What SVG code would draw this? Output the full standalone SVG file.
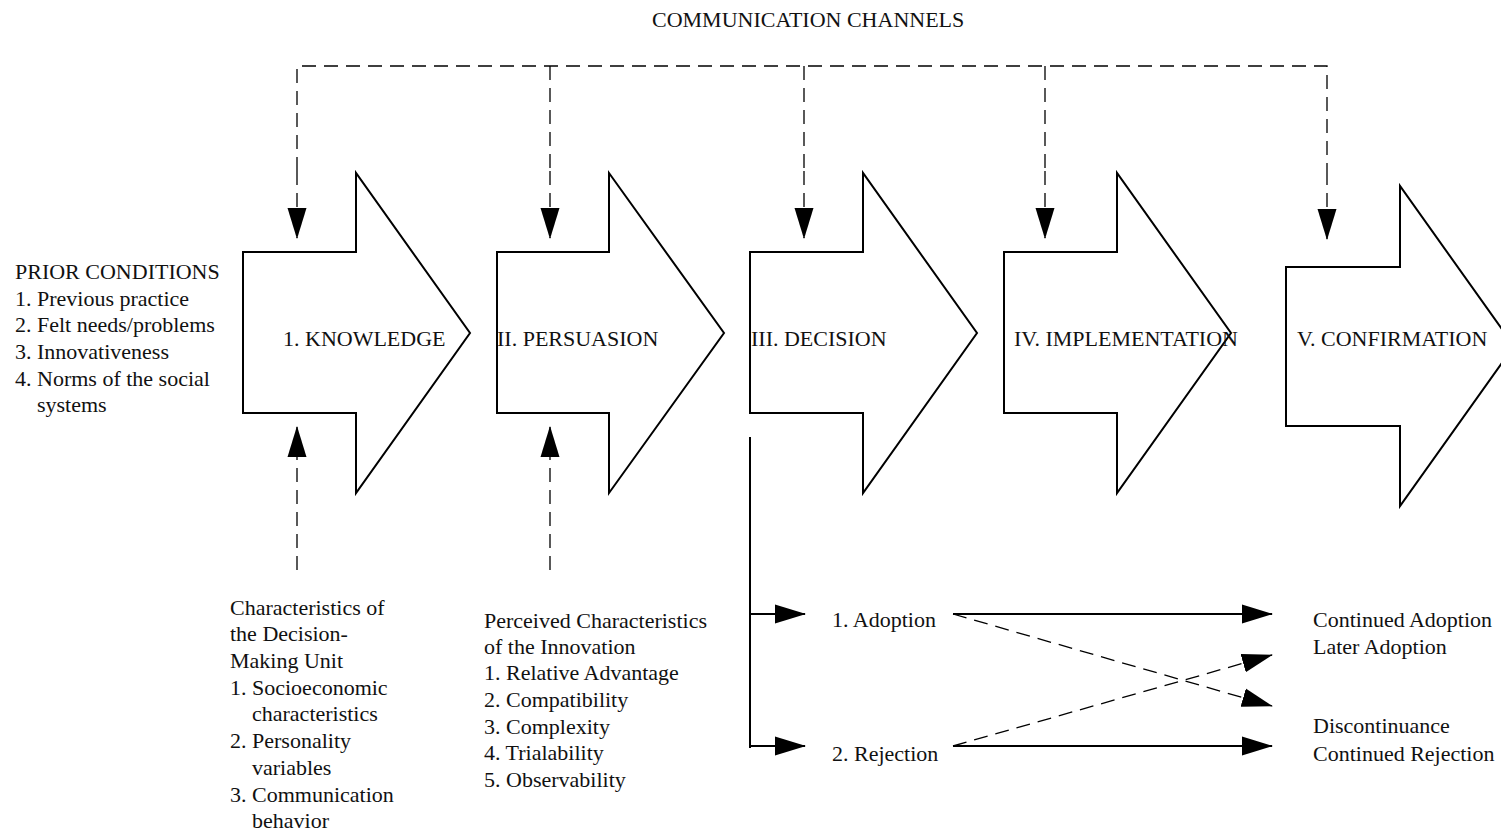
<svg xmlns="http://www.w3.org/2000/svg" width="1501" height="832" viewBox="0 0 1501 832">
<style>
text{font-family:"Liberation Serif","Times New Roman",serif;font-size:22px;fill:#111}
.stage{fill:#fff;stroke:#000;stroke-width:2}
.dash{fill:none;stroke:#000;stroke-width:1.3;stroke-dasharray:14 8}
.solid{fill:none;stroke:#000;stroke-width:2}
</style>
<defs>
<marker id="ah" markerWidth="32" markerHeight="20" refX="30" refY="10" orient="auto" markerUnits="userSpaceOnUse">
<path d="M0,0.5 L31,10 L0,19.5 Z" fill="#000"/>
</marker>
</defs>
<rect width="1501" height="832" fill="#fff"/>
<g id="title"><text x="652" y="27">COMMUNICATION CHANNELS</text></g>
<g id="prior">
<text x="15" y="279">PRIOR CONDITIONS</text>
<text x="15" y="306">1. Previous practice</text>
<text x="15" y="332">2. Felt needs/problems</text>
<text x="15" y="359">3. Innovativeness</text>
<text x="15" y="386">4. Norms of the social</text>
<text x="37" y="412">systems</text>
</g>
<g id="knowledge"><path class="stage" d="M243,252 H356 V173 L470,333 L356,493 V413 H243 Z"/><text x="283" y="346">1. KNOWLEDGE</text></g>
<g id="persuasion"><path class="stage" d="M497,252 H609 V173 L724,333 L609,493 V413 H497 Z"/><text x="497" y="346">II. PERSUASION</text></g>
<g id="decision"><path class="stage" d="M750,252 H863 V173 L977,333 L863,493 V413 H750 Z"/><text x="751" y="346">III. DECISION</text></g>
<g id="implementation"><path class="stage" d="M1004,252 H1117 V173 L1231,333 L1117,493 V413 H1004 Z"/><text x="1014" y="346">IV. IMPLEMENTATION</text></g>
<g id="confirmation"><path class="stage" d="M1286,267 H1400 V186 L1514,346 L1400,506 V426 H1286 Z"/><text x="1297" y="346">V. CONFIRMATION</text></g>
<g id="dmu">
<text x="230" y="615">Characteristics of</text>
<text x="230" y="641">the Decision-</text>
<text x="230" y="668">Making Unit</text>
<text x="230" y="695">1. Socioeconomic</text>
<text x="252" y="721">characteristics</text>
<text x="230" y="748">2. Personality</text>
<text x="252" y="775">variables</text>
<text x="230" y="802">3. Communication</text>
<text x="252" y="828">behavior</text>
</g>
<g id="perceived">
<text x="484" y="628">Perceived Characteristics</text>
<text x="484" y="654">of the Innovation</text>
<text x="484" y="680">1. Relative Advantage</text>
<text x="484" y="707">2. Compatibility</text>
<text x="484" y="734">3. Complexity</text>
<text x="484" y="760">4. Trialability</text>
<text x="484" y="787">5. Observability</text>
</g>
<g id="adoption"><text x="832" y="627">1. Adoption</text></g>
<g id="rejection"><text x="832" y="761">2. Rejection</text></g>
<g id="outcomes-adopt"><text x="1313" y="627">Continued Adoption</text><text x="1313" y="654">Later Adoption</text></g>
<g id="outcomes-reject"><text x="1313" y="733">Discontinuance</text><text x="1313" y="761">Continued Rejection</text></g>
<g id="connectors">
<path class="dash" d="M297,171 V66 H1327 V171"/>
<path class="dash" d="M550,66 V171"/>
<path class="dash" d="M804,66 V171"/>
<path class="dash" d="M1045,66 V171"/>
<path class="dash" d="M297,171 V238" marker-end="url(#ah)"/>
<path class="dash" d="M550,171 V238" marker-end="url(#ah)"/>
<path class="dash" d="M804,171 V238" marker-end="url(#ah)"/>
<path class="dash" d="M1045,171 V238" marker-end="url(#ah)"/>
<path class="dash" d="M1327,171 V239" marker-end="url(#ah)"/>
<path class="dash" d="M297,570 V427" marker-end="url(#ah)"/>
<path class="dash" d="M550,570 V427" marker-end="url(#ah)"/>
<path class="solid" d="M750,437 V748"/>
<path class="solid" d="M750,614 H805" marker-end="url(#ah)"/>
<path class="solid" d="M750,746 H805" marker-end="url(#ah)"/>
<path class="solid" d="M953,614 H1272" marker-end="url(#ah)"/>
<path class="solid" d="M953,746 H1272" marker-end="url(#ah)"/>
<path class="dash" d="M953,614 L1272,706" marker-end="url(#ah)"/>
<path class="dash" d="M953,746 L1272,655" marker-end="url(#ah)"/>
</g>
</svg>
